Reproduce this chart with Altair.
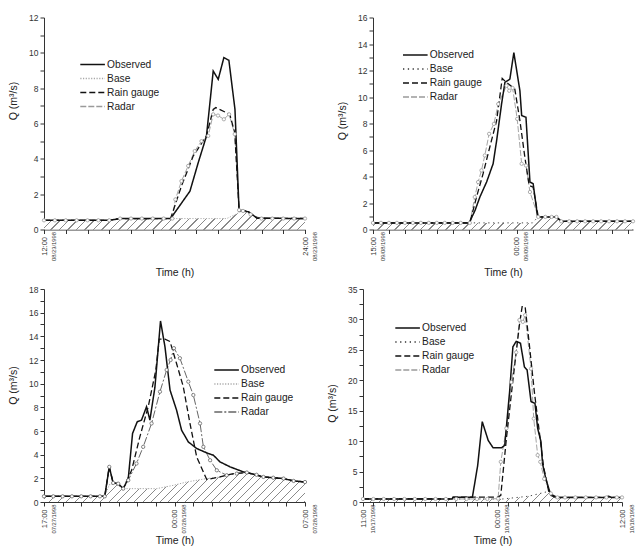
import altair as alt
import pandas as pd

SERIES = ["Observed", "Base", "Rain gauge", "Radar"]
Q_TITLE = "Q (m³/s)"
T_TITLE = "Time (h)"

# ---- Event of 08/23/1998 (hours after 12:00) ----
E1_BASE_H = [0, 3.0, 3.5, 8.4, 8.8, 9.15, 9.4, 9.8, 12]
E1_BASE_Q = [0.52, 0.52, 0.62, 0.62, 0.85, 1.08, 1.0, 0.64, 0.62]
E1_OBS_H = [0, 3.0, 3.5, 5.82, 6.71, 7.09, 7.47, 7.78, 8.01, 8.27, 8.5, 8.78, 8.97, 9.15, 9.4, 9.8, 12]
E1_OBS_Q = [0.52, 0.52, 0.62, 0.62, 2.17, 3.78, 5.29, 8.97, 8.5, 9.73, 9.58, 6.8, 1.04, 1.08, 1.0, 0.64, 0.62]
E1_GAUGE_H = [0, 3.0, 3.5, 5.82, 6.32, 6.86, 7.47, 7.78, 7.9, 8.54, 8.77, 8.97, 9.15, 9.4, 9.8, 12]
E1_GAUGE_Q = [0.52, 0.52, 0.62, 0.62, 2.46, 4.16, 5.3, 6.8, 6.9, 6.52, 5.48, 1.1, 1.08, 1.0, 0.64, 0.62]
E1_RADAR_H = [0, 0.5, 1, 1.5, 2, 2.5, 3, 3.5, 4, 4.5, 5, 5.5, 5.9, 6.04, 6.32, 6.63, 6.93, 7.24,
              7.55, 7.78, 8.0, 8.27, 8.51, 8.77, 8.97, 9.15, 9.5, 10, 10.5, 11, 11.5, 12]
E1_RADAR_Q = [0.52, 0.52, 0.52, 0.52, 0.52, 0.52, 0.52, 0.62, 0.62, 0.62, 0.62, 0.62, 0.62, 1.7,
              2.74, 3.6, 4.44, 5.0, 5.3, 6.52, 6.45, 6.24, 6.52, 5.4, 1.1, 1.05, 0.85, 0.62, 0.62,
              0.62, 0.62, 0.62]
E1_TICK_H = [0, 12]
E1_TICK_TIME = ["12:00", "24:00"]
E1_TICK_DATE = ["08/23/1998", "08/23/1998"]

# ---- Event of 09/08/1998 (hours after 15:00) ----
E2_BASE_H = [0, 10.0, 10.35, 11.5, 11.8, 16.3]
E2_BASE_Q = [0.5, 0.5, 0.95, 0.95, 0.62, 0.62]
E2_OBS_H = [0, 6.03, 6.4, 6.70, 7.12, 7.53, 7.75, 8.06, 8.27, 8.58, 8.83, 9.21, 9.32, 9.59, 9.84,
            10.04, 10.32, 11.5, 11.8, 16.3]
E2_OBS_Q = [0.5, 0.5, 1.45, 2.45, 3.58, 4.96, 6.7, 9.47, 11.1, 11.35, 13.35, 10.47, 8.6, 8.47, 3.58,
            3.46, 0.95, 0.95, 0.62, 0.62]
E2_GAUGE_H = [0, 6.07, 6.49, 6.9, 7.32, 7.75, 8.1, 8.37, 8.89, 9.21, 9.52, 9.79, 10.04, 10.36, 11.5,
              11.8, 16.3]
E2_GAUGE_Q = [0.5, 0.5, 2.45, 4.21, 6.21, 8.22, 11.4, 11.1, 10.6, 8.22, 5.46, 3.33, 3.2, 0.95, 0.95,
              0.62, 0.62]
E2_RADAR_H = [0, 0.5, 1, 1.5, 2, 2.5, 3, 3.5, 4, 4.5, 5, 5.5, 6.07, 6.38, 6.59, 6.8, 7.01, 7.28,
              7.58, 7.85, 8.37, 8.54, 8.75, 9.04, 9.32, 9.59, 9.84, 10.36, 10.8, 11.2, 11.5, 11.8,
              12.3, 12.8, 13.3, 13.8, 14.3, 14.8, 15.3, 15.8, 16.3]
E2_RADAR_Q = [0.5, 0.5, 0.5, 0.5, 0.5, 0.5, 0.5, 0.5, 0.5, 0.5, 0.5, 0.5, 0.5, 2.45, 3.58, 4.46,
              5.59, 7.22, 7.97, 9.47, 10.85, 10.47, 10.68, 8.35, 4.96, 4.83, 2.83, 0.95, 0.95,
              0.95, 0.95, 0.62, 0.62, 0.62, 0.62, 0.62, 0.62, 0.62, 0.62, 0.62, 0.62]
E2_TICK_H = [0, 9]
E2_TICK_TIME = ["15:00", "00:00"]
E2_TICK_DATE = ["09/08/1998", "09/09/1998"]

# ---- Event of 07/27/1998 (hours after 17:00) ----
E3_BASE_H = [0, 3.26, 3.5, 3.8, 4.25, 6.04, 6.94, 7.65, 8.73, 9.44, 10.16, 10.88, 11.77, 12.85,
             13.39, 14]
E3_BASE_Q = [0.48, 0.48, 1.45, 1.55, 1.13, 1.13, 1.41, 1.69, 1.98, 2.12, 2.4, 2.49, 2.12, 1.98,
             1.78, 1.69]
E3_OBS_H = [0, 3.26, 3.5, 3.71, 3.98, 4.25, 4.52, 4.75, 5.0, 5.23, 5.5, 5.68, 5.95, 6.25, 6.49,
            6.76, 7.11, 7.38, 7.74, 8.19, 8.73, 9.09, 9.44, 9.98, 10.7, 10.88, 11.77, 12.85,
            13.39, 14]
E3_OBS_Q = [0.48, 0.48, 2.97, 1.61, 1.55, 1.13, 1.98, 5.79, 6.78, 6.92, 8.05, 6.92, 9.7, 15.3,
            13.1, 9.46, 7.77, 6.07, 5.08, 4.52, 4.15, 3.95, 3.39, 2.97, 2.54, 2.49, 2.12, 1.98,
            1.78, 1.69]
E3_GAUGE_H = [0, 3.26, 3.5, 3.71, 3.98, 4.25, 4.7, 5.14, 5.59, 6.0, 6.18, 6.49, 6.76, 7.11, 7.47,
              7.83, 8.19, 8.73, 9.44, 10.16, 10.88, 11.77, 12.85, 13.39, 14]
E3_GAUGE_Q = [0.48, 0.48, 2.97, 1.61, 1.55, 1.13, 2.68, 5.5, 8.05, 11.16, 13.76, 13.76, 13.56,
              11.7, 9.75, 6.64, 3.81, 1.9, 2.12, 2.4, 2.49, 2.12, 1.98, 1.78, 1.69]
E3_RADAR_H = [0, 0.5, 1, 1.5, 2, 2.5, 3, 3.26, 3.5, 3.71, 3.98, 4.25, 4.52, 4.96, 5.32, 5.77,
              6.22, 6.58, 6.79, 6.97, 7.29, 7.74, 8.01, 8.37, 8.55, 8.91, 9.27, 9.8, 10.34, 10.88,
              11.4, 11.77, 12.3, 12.85, 13.39, 14]
E3_RADAR_Q = [0.48, 0.48, 0.48, 0.48, 0.48, 0.48, 0.48, 0.48, 2.97, 1.61, 1.55, 1.13, 1.84, 3.25,
              4.66, 6.64, 9.32, 11.16, 12.0, 13.0, 12.15, 10.17, 9.04, 6.64, 4.66, 3.53, 2.68,
              2.26, 2.4, 2.49, 2.3, 2.12, 2.05, 1.98, 1.78, 1.69]
E3_TICK_H = [0, 7, 14]
E3_TICK_TIME = ["17:00", "00:00", "07:00"]
E3_TICK_DATE = ["07/27/1998", "07/28/1998", "07/28/1998"]

# ---- Event of 10/17/1998 (hours after 11:00) ----
E4_BASE_H = [0, 13.5, 16.0, 17.8, 18.3, 18.77, 25]
E4_BASE_Q = [0.5, 0.5, 0.95, 1.7, 1.2, 0.75, 0.75]
E4_OBS_H = [0, 8.6, 8.7, 10.56, 11.07, 11.51, 12.09, 12.56, 13.36, 13.68, 14.15, 14.47, 14.79,
            15.2, 15.58, 15.84, 16.22, 16.6, 16.86, 17.18, 17.33, 17.65, 18.13, 18.6, 23.4, 23.7,
            24.0, 25]
E4_OBS_Q = [0.5, 0.5, 0.8, 0.8, 6.0, 13.2, 10.1, 8.9, 8.9, 9.3, 18.1, 25.5, 26.4, 26.1, 22.2,
            21.7, 16.5, 16.2, 12.1, 9.9, 6.3, 3.8, 1.1, 0.75, 0.75, 0.95, 0.75, 0.75]
E4_GAUGE_H = [0, 8.6, 8.7, 13.04, 13.3, 13.84, 14.47, 15.1, 15.36, 15.65, 16.06, 16.54, 17.02,
              17.43, 17.97, 18.77, 25]
E4_GAUGE_Q = [0.5, 0.5, 0.8, 0.8, 1.1, 10.4, 20.0, 29.1, 32.1, 32.1, 25.8, 18.1, 11.5, 5.8, 1.4,
              0.75, 0.75]
E4_RADAR_H = [0, 1, 2, 3, 4, 5, 6, 7, 8, 9, 10, 11, 12, 13.04, 13.3, 13.84, 14.31, 14.79, 15.1,
              15.43, 15.65, 16.22, 16.48, 16.86, 17.11, 17.49, 18.13, 18.77, 19.5, 20.5, 21.5,
              22.5, 23.5, 24.5, 25]
E4_RADAR_Q = [0.5, 0.5, 0.5, 0.5, 0.5, 0.5, 0.5, 0.5, 0.5, 0.5, 0.5, 0.5, 0.5, 0.55, 6.6, 12.1,
              19.7, 24.6, 29.9, 29.6, 30.7, 21.9, 13.7, 7.7, 6.6, 3.8, 1.4, 0.75, 0.75, 0.75, 0.75,
              0.75, 0.75, 0.75, 0.75]
E4_TICK_H = [0, 13, 25]
E4_TICK_TIME = ["11:00", "00:00", "12:00"]
E4_TICK_DATE = ["10/17/1998", "10/18/1998", "10/18/1998"]

FONT = "Liberation Sans"
INK = "#222222"


def hatch_fill(w, h, step=8.5, thick=1.3, ink="#8a8a8a"):
    """Diagonal '////' hatching as a hard-stop linear gradient over the area's bounding box."""
    r = h / w
    k = (1 + r) / (1 + r * r)
    span = w + h
    stops = []
    pos = 0.0
    while pos < span:
        a = round(pos / span, 5)
        b = round(min((pos + thick) / span, 1.0), 5)
        stops += [alt.GradientStop(offset=a, color="white"),
                  alt.GradientStop(offset=a, color=ink),
                  alt.GradientStop(offset=b, color=ink),
                  alt.GradientStop(offset=b, color="white")]
        pos += step
    return alt.LinearGradient(gradient="linear", stops=stops, x1=0, y1=0, x2=k, y2=k * r)


def ternary(values, labels):
    parts = [f"datum.value == {v} ? '{t}'" for v, t in zip(values, labels)]
    return " : ".join(parts) + " : ''"


def panel(ev, st):
    xs = alt.Scale(domain=[0, ev["x_max"]], nice=False, zero=False)
    ys = alt.Scale(domain=[0, ev["y_max"]], nice=False)

    y_vals = [round(i * ev["y_minor"], 3) for i in range(int(round(ev["y_max"] / ev["y_minor"])) + 1)]
    y_axis = alt.Axis(values=y_vals, labelExpr=f"datum.value % {ev['y_major']} == 0 ? datum.label : ''",
                      title=Q_TITLE, titleY=st["title_y"], titlePadding=10, tickSize=4,
                      labelPadding=2, labelFontSize=8.5, labelOverlap=False, grid=False)
    x_main = alt.Axis(values=list(range(0, int(ev["x_max"]) + 1)),
                      labelExpr=ternary(ev["tick_h"], ev["tick_time"]),
                      labelAngle=270, labelFontSize=7.5, labelPadding=3, tickSize=4,
                      labelOverlap=False, labelFlush=False, title=T_TITLE,
                      titlePadding=st["x_title_pad"], orient="bottom", grid=False)
    x_date = alt.Axis(values=ev["tick_h"], labelExpr=ternary(ev["tick_h"], ev["tick_date"]),
                      labelAngle=270, labelFontSize=5.8, labelPadding=2, labelOffset=9,
                      ticks=False, tickSize=0, domain=False, labelOverlap=False,
                      labelFlush=False, title=None, orient="bottom", grid=False)

    base_df = pd.DataFrame({"hour": ev["base_h"], "q": ev["base_q"]})
    area_h = st["height"] * max(ev["base_q"]) / ev["y_max"]
    hatch = alt.Chart(base_df).mark_area(fill=hatch_fill(st["width"], area_h), strokeWidth=0).encode(
        x=alt.X("hour:Q", scale=xs, axis=None),
        y=alt.Y("q:Q", scale=ys, axis=y_axis),
    )

    rows = []
    for name, hs, qs in [("Base", ev["base_h"], ev["base_q"]),
                         ("Radar", ev["radar_h"], ev["radar_q"]),
                         ("Rain gauge", ev["gauge_h"], ev["gauge_q"]),
                         ("Observed", ev["obs_h"], ev["obs_q"])]:
        rows += [{"series": name, "hour": h, "q": q} for h, q in zip(hs, qs)]
    long_df = pd.DataFrame(rows)

    leg = alt.Legend(orient="none", legendX=st["leg_x"], legendY=st["leg_y"], title=None,
                     symbolType="M-2.05,0L2.05,0", symbolSize=144, symbolStrokeWidth=1.3,
                     labelFontSize=10.2, labelOffset=7.5, labelColor=INK, rowPadding=1,
                     padding=0, labelFont=FONT)
    colors = ["#111111", st["base_color"], "#111111", st["radar_color"]]
    dashes = [[1, 0], st["base_dash"], [6, 3], st["radar_dash"]]

    width_rule = {
        "condition": [
            {"test": "datum.series == 'Observed'", "value": 1.5},
            {"test": "datum.series == 'Rain gauge'", "value": 1.3},
        ],
        "value": st["thin"],
    }

    lines = alt.Chart(long_df).mark_line().encode(
        x=alt.X("hour:Q", scale=xs, axis=x_main),
        y=alt.Y("q:Q", scale=ys, axis=y_axis),
        color=alt.Color("series:N", scale=alt.Scale(domain=SERIES, range=colors), legend=leg),
        strokeDash=alt.StrokeDash("series:N", scale=alt.Scale(domain=SERIES, range=dashes), legend=leg),
        strokeWidth=width_rule,
    )

    radar_df = pd.DataFrame({"hour": ev["radar_h"], "q": ev["radar_q"]})
    pts = alt.Chart(radar_df).mark_point(shape="circle", filled=True, fill="white",
                                         stroke=st["radar_color"], strokeWidth=0.8, size=11,
                                         opacity=1).encode(
        x=alt.X("hour:Q", scale=xs, axis=None),
        y=alt.Y("q:Q", scale=ys, axis=y_axis),
    )

    dates = alt.Chart(pd.DataFrame({"hour": ev["tick_h"]})).mark_rule(opacity=0).encode(
        x=alt.X("hour:Q", scale=xs, axis=x_date),
    )

    return (alt.layer(hatch, lines, pts, dates)
            .resolve_axis(x="independent")
            .properties(width=st["width"], height=st["height"]))


def event(base_h, base_q, obs_h, obs_q, gauge_h, gauge_q, radar_h, radar_q,
          tick_h, tick_time, tick_date, x_max, y_max, y_major, y_minor):
    return dict(base_h=base_h, base_q=base_q, obs_h=obs_h, obs_q=obs_q, gauge_h=gauge_h,
                gauge_q=gauge_q, radar_h=radar_h, radar_q=radar_q, tick_h=tick_h,
                tick_time=tick_time, tick_date=tick_date, x_max=x_max, y_max=y_max,
                y_major=y_major, y_minor=y_minor)


ev1 = event(E1_BASE_H, E1_BASE_Q, E1_OBS_H, E1_OBS_Q, E1_GAUGE_H, E1_GAUGE_Q, E1_RADAR_H,
            E1_RADAR_Q, E1_TICK_H, E1_TICK_TIME, E1_TICK_DATE, 12, 12, 2, 1)
ev2 = event(E2_BASE_H, E2_BASE_Q, E2_OBS_H, E2_OBS_Q, E2_GAUGE_H, E2_GAUGE_Q, E2_RADAR_H,
            E2_RADAR_Q, E2_TICK_H, E2_TICK_TIME, E2_TICK_DATE, 16.3, 16, 2, 1)
ev3 = event(E3_BASE_H, E3_BASE_Q, E3_OBS_H, E3_OBS_Q, E3_GAUGE_H, E3_GAUGE_Q, E3_RADAR_H,
            E3_RADAR_Q, E3_TICK_H, E3_TICK_TIME, E3_TICK_DATE, 14, 18, 2, 1)
ev4 = event(E4_BASE_H, E4_BASE_Q, E4_OBS_H, E4_OBS_Q, E4_GAUGE_H, E4_GAUGE_Q, E4_RADAR_H,
            E4_RADAR_Q, E4_TICK_H, E4_TICK_TIME, E4_TICK_DATE, 25, 35, 5, 2.5)

st1 = dict(width=261, height=212, title_y=83, leg_x=41.6, leg_y=40, base_color="#a8a8a8",
           base_dash=[1.2, 1.5], radar_color="#9a9a9a", radar_dash=[6, 2], thin=0.9,
           x_title_pad=12)
st2 = dict(width=260, height=212, title_y=103, leg_x=35.3, leg_y=30.5, base_color="#333333",
           base_dash=[1.3, 3.5], radar_color="#9a9a9a", radar_dash=[6, 2], thin=0.9,
           x_title_pad=12)
st3 = dict(width=261, height=213, title_y=96, leg_x=175.6, leg_y=74, base_color="#a8a8a8",
           base_dash=[1.2, 1.5], radar_color="#666666", radar_dash=[8, 2, 2, 2], thin=1.0,
           x_title_pad=8)
st4 = dict(width=259, height=213, title_y=114, leg_x=37.6, leg_y=32, base_color="#333333",
           base_dash=[1.3, 3.5], radar_color="#9a9a9a", radar_dash=[6, 2], thin=0.9,
           x_title_pad=8)

indep = dict(color="independent", strokeDash="independent", x="independent", y="independent")

top_row = alt.hconcat(panel(ev1, st1), panel(ev2, st2), spacing=68, bounds="flush").resolve_scale(**indep)
bottom_row = alt.hconcat(panel(ev3, st3), panel(ev4, st4), spacing=58, bounds="flush").resolve_scale(**indep)

chart = (
    alt.vconcat(top_row, bottom_row, spacing=6.5, bounds="full")
    .resolve_scale(**indep)
    .properties(padding={"left": 8, "top": 13.5, "right": 0, "bottom": 0}, background="white")
    .configure(font=FONT)
    .configure_view(stroke=None)
    .configure_axis(domainColor="#333333", tickColor="#333333", labelColor="#333333",
                    titleColor=INK, titleFontSize=10.5, titleFontWeight="normal",
                    labelFont=FONT, titleFont=FONT, domainWidth=1, tickWidth=1)
)

chart.save("out.html", embed_options={"renderer": "svg", "actions": False})
